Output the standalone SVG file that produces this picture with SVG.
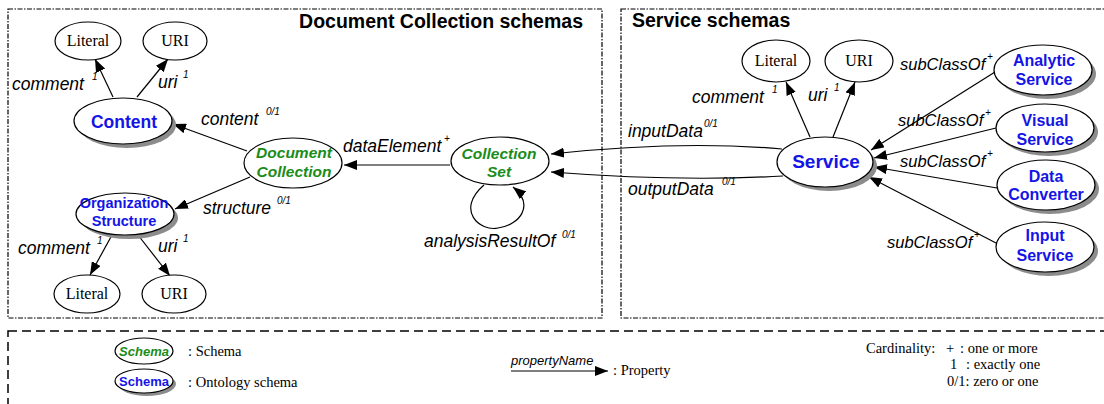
<svg xmlns="http://www.w3.org/2000/svg" width="1104" height="404" viewBox="0 0 1104 404">
<defs>
<marker id="arr" viewBox="0 0 13 10" refX="13" refY="5" markerWidth="13" markerHeight="10" orient="auto" markerUnits="userSpaceOnUse"><path d="M0,0 L13,5 L0,10 z" fill="#000"/></marker>
<style>
.frame{fill:none;stroke:#000;stroke-width:1.2;stroke-dasharray:5 1.5 1.5 1.5}
.legendframe{fill:none;stroke:#000;stroke-width:1.5;stroke-dasharray:9 5}
.title{font-family:"Liberation Sans",Arial,sans-serif;font-weight:bold;font-size:19.5px;fill:#000}
.el{fill:#fff;stroke:#000;stroke-width:1.2}
.sh{fill:#8c8c8c}
.lit{font-family:"Liberation Serif","Times New Roman",serif;font-size:16px;fill:#000;text-anchor:middle}
.onto{font-family:"Liberation Sans",Arial,sans-serif;font-weight:bold;fill:#1414e6;text-anchor:middle}
.sch{font-family:"Liberation Sans",Arial,sans-serif;font-weight:bold;font-style:italic;fill:#1a8c1a;text-anchor:middle}
.edge{fill:none;stroke:#000;stroke-width:1.2;marker-end:url(#arr)}
.lbl{font-family:"Liberation Sans",Arial,sans-serif;font-style:italic;font-size:17.5px;fill:#000}
.sub{font-family:"Liberation Sans",Arial,sans-serif;font-style:italic;font-size:16.5px;fill:#000}
.sup{font-family:"Liberation Sans",Arial,sans-serif;font-style:italic;font-size:10px;fill:#000}
.leg{font-family:"Liberation Serif","Times New Roman",serif;font-size:14.5px;fill:#000}
</style>
</defs>
<rect width="1104" height="404" fill="#fff"/>
<rect class="frame" x="8" y="9" width="594" height="309"/>
<rect class="frame" x="621" y="9" width="500" height="309"/>
<text class="title" x="583" y="28" text-anchor="end">Document Collection schemas</text>
<text class="title" x="632" y="27">Service schemas</text>

<g id="connectors">
<path class="edge" d="M113,97 L95,59"/>
<path class="edge" d="M137,97 L168,59"/>
<path class="edge" d="M247,151 L173,124"/>
<path class="edge" d="M250,177 L175,209"/>
<path class="edge" d="M112,235 L90,275"/>
<path class="edge" d="M138,235 L170,276"/>
<path class="edge" d="M450,165 L344,165"/>
<path class="edge" d="M484,185 C455,210 480,232 498,228 C520,225 535,205 513,187"/>
<path class="edge" d="M782,149 Q680,140 551,154"/>
<path class="edge" d="M783,176 Q680,182 551,172"/>
<path class="edge" d="M810,137 L786,82"/>
<path class="edge" d="M833,137 L855,82"/>
<path class="edge" d="M995,72 L871,150"/>
<path class="edge" d="M996,128 L874,158"/>
<path class="edge" d="M997,188 L874,167"/>
<path class="edge" d="M996,243 L869,177"/>
</g>

<g id="edge-labels">
<text class="lbl" x="12" y="90">comment</text><text class="sup" x="92" y="80">1</text>
<text class="lbl" x="158" y="88">uri</text><text class="sup" x="183" y="78">1</text>
<text class="lbl" x="201" y="125">content</text><text class="sup" x="266" y="115">0/1</text>
<text class="lbl" x="203" y="214">structure</text><text class="sup" x="277" y="204">0/1</text>
<text class="lbl" x="18" y="254">comment</text><text class="sup" x="97" y="244">1</text>
<text class="lbl" x="158" y="252">uri</text><text class="sup" x="183" y="242">1</text>
<text class="lbl" x="343" y="152">dataElement</text><text class="sup" x="444" y="142">+</text>
<text class="lbl" x="424" y="247">analysisResultOf</text><text class="sup" x="562" y="238">0/1</text>
<text class="lbl" x="628" y="137">inputData</text><text class="sup" x="704" y="127">0/1</text>
<text class="lbl" x="628" y="195">outputData</text><text class="sup" x="722" y="185">0/1</text>
<text class="lbl" x="692" y="103">comment</text><text class="sup" x="772" y="93">1</text>
<text class="lbl" x="808" y="101">uri</text><text class="sup" x="834" y="91">1</text>
<text class="sub" x="900" y="70">subClassOf</text><text class="sup" x="987" y="60">+</text>
<text class="sub" x="898" y="126">subClassOf</text><text class="sup" x="985" y="116">+</text>
<text class="sub" x="900" y="167">subClassOf</text><text class="sup" x="987" y="157">+</text>
<text class="sub" x="887" y="248">subClassOf</text><text class="sup" x="974" y="238">+</text>
</g>

<g id="literal-1"><ellipse class="el" cx="88" cy="41" rx="33" ry="19"/><text class="lit" x="88" y="46">Literal</text></g>
<g id="uri-1"><ellipse class="el" cx="175" cy="41" rx="32" ry="19"/><text class="lit" x="175" y="46">URI</text></g>
<g id="content"><ellipse class="sh" cx="127" cy="125" rx="49" ry="23"/><ellipse class="el" cx="123" cy="121" rx="49" ry="23"/><text class="onto" x="124" y="128" font-size="17.5px">Content</text></g>
<g id="document-collection"><ellipse class="el" cx="293" cy="163" rx="49" ry="25"/><text class="sch" x="294" y="158" font-size="15.5px">Document</text><text class="sch" x="294" y="177" font-size="15.5px">Collection</text></g>
<g id="collection-set"><ellipse class="el" cx="500" cy="161" rx="49" ry="24"/><text class="sch" x="499" y="159" font-size="15.5px">Collection</text><text class="sch" x="499" y="177" font-size="15.5px">Set</text></g>
<g id="organization-structure"><ellipse class="sh" cx="129" cy="218" rx="49" ry="21"/><ellipse class="el" cx="125" cy="214" rx="49" ry="21"/><text class="onto" x="124" y="208" font-size="14.5px">Organization</text><text class="onto" x="124" y="226" font-size="14.5px">Structure</text></g>
<g id="literal-2"><ellipse class="el" cx="87" cy="294" rx="33" ry="19"/><text class="lit" x="87" y="299">Literal</text></g>
<g id="uri-2"><ellipse class="el" cx="174" cy="294" rx="32" ry="19"/><text class="lit" x="174" y="299">URI</text></g>
<g id="literal-3"><ellipse class="el" cx="776" cy="61" rx="34" ry="21"/><text class="lit" x="776" y="66">Literal</text></g>
<g id="uri-3"><ellipse class="el" cx="859" cy="61" rx="34" ry="21"/><text class="lit" x="859" y="66">URI</text></g>
<g id="service"><ellipse class="sh" cx="829" cy="166" rx="48" ry="25"/><ellipse class="el" cx="825" cy="162" rx="48" ry="25"/><text class="onto" x="826" y="168" font-size="19px">Service</text></g>
<g id="analytic-service"><ellipse class="sh" cx="1047" cy="74" rx="49" ry="25"/><ellipse class="el" cx="1043" cy="70" rx="49" ry="25"/><text class="onto" x="1044" y="66" font-size="16px">Analytic</text><text class="onto" x="1044" y="85" font-size="16px">Service</text></g>
<g id="visual-service"><ellipse class="sh" cx="1049" cy="132" rx="49" ry="24"/><ellipse class="el" cx="1045" cy="128" rx="49" ry="24"/><text class="onto" x="1045" y="126" font-size="16px">Visual</text><text class="onto" x="1045" y="145" font-size="16px">Service</text></g>
<g id="data-converter"><ellipse class="sh" cx="1050" cy="189" rx="49" ry="25"/><ellipse class="el" cx="1046" cy="185" rx="49" ry="25"/><text class="onto" x="1046" y="182" font-size="16px">Data</text><text class="onto" x="1046" y="200" font-size="16px">Converter</text></g>
<g id="input-service"><ellipse class="sh" cx="1049" cy="251" rx="49" ry="25"/><ellipse class="el" cx="1045" cy="247" rx="49" ry="25"/><text class="onto" x="1045" y="241" font-size="16px">Input</text><text class="onto" x="1045" y="261" font-size="16px">Service</text></g>

<g id="legend">
<rect class="legendframe" x="8" y="331" width="1110" height="90"/>
<ellipse class="el" cx="144" cy="351" rx="29" ry="13"/>
<text class="sch" x="144" y="355.5" font-size="13px">Schema</text>
<text class="leg" x="188" y="356">: Schema</text>
<ellipse class="sh" cx="147" cy="384" rx="29" ry="12"/>
<ellipse class="el" cx="144" cy="381" rx="29" ry="12"/>
<text class="onto" x="144" y="385.5" font-size="13px">Schema</text>
<text class="leg" x="188" y="387">: Ontology schema</text>
<text x="511" y="365" font-family="Liberation Sans, Arial, sans-serif" font-style="italic" font-size="13px">propertyName</text>
<path class="edge" d="M511,371 L608,371"/>
<text class="leg" x="613" y="375">: Property</text>
<text class="leg" x="866" y="353" font-size="15px">Cardinality:</text>
<text class="leg" x="946" y="353" font-size="15px">+</text>
<text class="leg" x="960" y="353" font-size="15px">: one or more</text>
<text class="leg" x="950" y="369" font-size="15px">1</text>
<text class="leg" x="966" y="369" font-size="15px">: exactly one</text>
<text class="leg" x="947" y="386" font-size="15px">0/1: zero or one</text>
</g>
</svg>
